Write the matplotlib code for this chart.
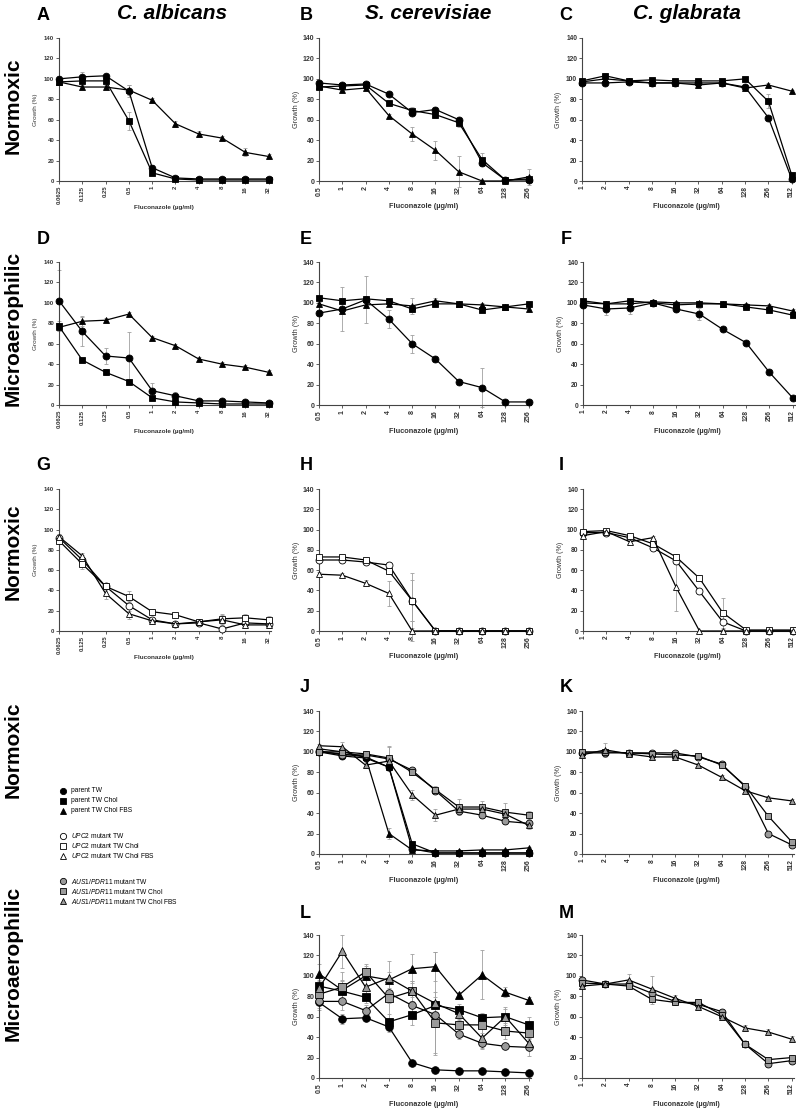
import matplotlib
matplotlib.use('Agg')
import matplotlib.pyplot as plt
from matplotlib.lines import Line2D
import numpy as np

plt.rcParams['font.family'] = ['Liberation Sans', 'DejaVu Sans']
plt.rcParams['mathtext.fontset'] = 'custom'
plt.rcParams['mathtext.it'] = 'Liberation Sans:italic'
plt.rcParams['mathtext.rm'] = 'Liberation Sans'

# ---------------- data ----------------
x_calb = ['0.0625', '0.125', '0.25', '0.5', '1', '2', '4', '8', '16', '32']
x_scer = ['0.5', '1', '2', '4', '8', '16', '32', '64', '128', '256']
x_cgla = ['1', '2', '4', '8', '16', '32', '64', '128', '256', '512']

yticks = [0, 20, 40, 60, 80, 100, 120, 140]

# Panel A  (C. albicans, normoxic, parent)
A_pTW = [100, 102, 103, 88, 13, 3, 2, 2, 2, 2]
A_pTW_err = [3, 5, 2, 6, 3, 1, 0, 0, 0, 0]
A_pTWC = [97, 98, 98, 59, 8, 2, 1, 1, 1, 1]
A_pTWC_err = [2, 2, 2, 9, 2, 1, 0, 0, 0, 0]
A_pTWCF = [97, 92, 92, 89, 79, 56, 46, 42, 28, 24]
A_pTWCF_err = [2, 2, 2, 5, 2, 3, 3, 2, 4, 2]

# Panel B  (S. cerevisiae, normoxic, parent)
B_pTW = [96, 94, 95, 85, 67, 70, 60, 18, 1, 1]
B_pTW_err = [2, 2, 1, 2, 2, 2, 2, 3, 1, 1]
B_pTWC = [92, 93, 94, 76, 69, 65, 57, 21, 1, 2]
B_pTWC_err = [2, 2, 1, 2, 3, 3, 4, 6, 1, 1]
B_pTWCF = [93, 89, 91, 64, 46, 30, 9, 0, 0, 4]
B_pTWCF_err = [2, 2, 1, 2, 7, 9, 15, 0, 0, 8]

# Panel C  (C. glabrata, normoxic, parent)
C_pTW = [96, 96, 97, 96, 96, 96, 96, 92, 62, 2]
C_pTW_err = [1, 1, 1, 1, 1, 1, 1, 1, 2, 1]
C_pTWC = [98, 103, 98, 99, 98, 98, 98, 100, 78, 6]
C_pTWC_err = [1, 3, 1, 1, 1, 1, 1, 1, 7, 2]
C_pTWCF = [97, 100, 98, 96, 96, 94, 96, 91, 94, 88]
C_pTWCF_err = [1, 2, 1, 1, 1, 3, 1, 2, 2, 1]

# Panel D  (C. albicans, microaerophilic, parent)
D_pTW = [102, 72, 48, 46, 14, 9, 4, 4, 3, 2]
D_pTW_err = [30, 14, 8, 25, 8, 4, 2, 1, 1, 1]
D_pTWC = [77, 44, 32, 23, 7, 3, 2, 1, 1, 1]
D_pTWC_err = [5, 2, 3, 2, 2, 1, 1, 0, 0, 0]
D_pTWCF = [76, 82, 83, 89, 66, 58, 45, 40, 37, 32]
D_pTWCF_err = [2, 5, 2, 2, 2, 2, 2, 2, 2, 2]

# Panel E  (S. cerevisiae, microaerophilic, parent)
E_pTW = [90, 94, 103, 84, 60, 45, 23, 17, 3, 3]
E_pTW_err = [3, 22, 23, 9, 9, 3, 2, 19, 1, 1]
E_pTWC = [105, 102, 104, 102, 94, 99, 99, 93, 96, 99]
E_pTWC_err = [2, 3, 3, 2, 3, 2, 2, 2, 2, 2]
E_pTWCF = [99, 92, 98, 99, 97, 102, 99, 98, 96, 94]
E_pTWCF_err = [2, 3, 3, 2, 8, 3, 2, 2, 2, 2]

# Panel F  (C. glabrata, microaerophilic, parent)
F_pTW = [98, 94, 95, 100, 94, 89, 74, 61, 32, 7]
F_pTW_err = [3, 6, 6, 2, 3, 6, 2, 2, 2, 2]
F_pTWC = [102, 99, 102, 100, 98, 99, 99, 96, 93, 88]
F_pTWC_err = [2, 3, 2, 2, 2, 2, 2, 2, 2, 2]
F_pTWCF = [100, 99, 99, 101, 100, 100, 99, 98, 97, 92]
F_pTWCF_err = [2, 2, 2, 2, 2, 2, 2, 2, 2, 2]

# Panel G  (C. albicans, normoxic, UPC2 mutant)
G_uTW = [92, 70, 44, 25, 11, 7, 8, 2, 8, 7]
G_uTW_err = [4, 5, 3, 5, 3, 2, 2, 2, 3, 4]
G_uTWC = [89, 66, 44, 34, 19, 16, 9, 12, 13, 11]
G_uTWC_err = [3, 5, 3, 5, 3, 2, 3, 5, 4, 4]
G_uTWCF = [93, 74, 37, 17, 10, 7, 9, 11, 6, 6]
G_uTWCF_err = [3, 3, 5, 5, 3, 2, 3, 5, 3, 3]

# Panel H  (S. cerevisiae, normoxic, UPC2 mutant)
H_uTW = [70, 70, 68, 65, 30, 0, 0, 0, 0, 0]
H_uTW_err = [2, 2, 2, 3, 20, 0, 0, 0, 0, 0]
H_uTWC = [73, 73, 70, 59, 30, 0, 0, 0, 0, 0]
H_uTWC_err = [2, 2, 2, 3, 27, 0, 0, 0, 0, 0]
H_uTWCF = [56, 55, 47, 37, 0, 0, 0, 0, 0, 0]
H_uTWCF_err = [2, 2, 3, 12, 10, 0, 0, 0, 0, 0]

# Panel I  (C. glabrata, normoxic, UPC2 mutant)
I_uTW = [97, 97, 92, 82, 69, 39, 9, 0, 0, 0]
I_uTW_err = [2, 2, 2, 2, 3, 2, 7, 0, 0, 0]
I_uTWC = [98, 99, 94, 86, 73, 52, 18, 1, 1, 1]
I_uTWC_err = [2, 2, 2, 2, 3, 3, 15, 1, 0, 0]
I_uTWCF = [94, 98, 88, 92, 43, 0, 0, 0, 0, 0]
I_uTWCF_err = [2, 2, 2, 2, 23, 0, 0, 0, 0, 0]

# Panel J  (S. cerevisiae, normoxic, parent + AUS1/PDR11 mutant)
J_pTW = [100, 96, 94, 85, 5, 1, 1, 1, 1, 1]
J_pTW_err = [2, 2, 2, 3, 1, 0, 0, 0, 0, 0]
J_pTWC = [100, 98, 95, 85, 10, 1, 1, 1, 1, 1]
J_pTWC_err = [2, 2, 2, 3, 2, 0, 0, 0, 0, 0]
J_pTWCF = [103, 100, 95, 20, 4, 3, 3, 4, 4, 6]
J_pTWCF_err = [2, 3, 2, 5, 2, 1, 1, 1, 1, 1]
J_aTW = [101, 97, 97, 93, 82, 62, 42, 38, 32, 30]
J_aTW_err = [2, 2, 2, 12, 2, 3, 3, 3, 3, 3]
J_aTWC = [100, 100, 98, 94, 80, 63, 46, 46, 41, 38]
J_aTWC_err = [2, 2, 2, 12, 3, 4, 8, 6, 9, 4]
J_aTWCF = [106, 105, 87, 91, 58, 38, 44, 44, 39, 28]
J_aTWCF_err = [2, 5, 3, 4, 5, 6, 4, 4, 4, 4]

# Panel K  (C. glabrata, normoxic, AUS1/PDR11 mutant)
K_aTW = [99, 99, 99, 99, 99, 95, 88, 66, 20, 9]
K_aTW_err = [2, 2, 2, 2, 2, 2, 2, 2, 2, 2]
K_aTWC = [100, 100, 99, 98, 97, 96, 87, 67, 37, 12]
K_aTWC_err = [2, 2, 2, 2, 2, 2, 2, 2, 2, 2]
K_aTWCF = [97, 102, 98, 95, 95, 87, 75, 62, 55, 52]
K_aTWCF_err = [2, 7, 2, 2, 2, 2, 2, 2, 2, 2]

# Panel L  (S. cerevisiae, microaerophilic, parent + AUS1/PDR11 mutant)
L_pTW = [74, 58, 59, 50, 15, 8, 7, 7, 6, 5]
L_pTW_err = [5, 5, 3, 5, 2, 1, 1, 1, 1, 1]
L_pTWC = [90, 85, 79, 55, 62, 71, 67, 59, 60, 52]
L_pTWC_err = [5, 10, 6, 8, 10, 8, 5, 5, 8, 8]
L_pTWCF = [102, 86, 100, 96, 107, 109, 81, 101, 84, 76]
L_pTWCF_err = [10, 10, 10, 8, 14, 14, 3, 24, 5, 3]
L_aTW = [75, 75, 66, 83, 71, 62, 43, 34, 31, 30]
L_aTW_err = [8, 8, 5, 10, 8, 12, 5, 6, 3, 8]
L_aTWC = [82, 89, 104, 78, 85, 54, 52, 52, 46, 44]
L_aTWC_err = [6, 15, 8, 20, 10, 30, 6, 8, 8, 8]
L_aTWCF = [88, 124, 89, 98, 85, 73, 63, 39, 60, 34]
L_aTWCF_err = [8, 16, 8, 17, 10, 50, 6, 10, 10, 5]

# Panel M  (C. glabrata, microaerophilic, AUS1/PDR11 mutant)
M_aTW = [96, 92, 92, 83, 75, 72, 65, 33, 14, 17]
M_aTW_err = [2, 2, 2, 5, 3, 3, 3, 3, 3, 3]
M_aTWC = [93, 92, 90, 77, 74, 74, 62, 33, 18, 20]
M_aTWC_err = [2, 2, 2, 5, 3, 3, 3, 3, 3, 3]
M_aTWCF = [90, 92, 96, 87, 78, 70, 60, 49, 45, 38]
M_aTWCF_err = [2, 2, 6, 13, 3, 3, 3, 3, 3, 3]

legend_labels = ['parent TW', 'parent TW Chol', 'parent TW Chol FBS',
                 r'$\it{UPC2}$ mutant TW', r'$\it{UPC2}$ mutant TW Chol',
                 r'$\it{UPC2}$ mutant TW Chol FBS',
                 r'$\it{AUS1/PDR11}$ mutant TW', r'$\it{AUS1/PDR11}$ mutant TW Chol',
                 r'$\it{AUS1/PDR11}$ mutant TW Chol FBS']

# ---------------- styling ----------------
GRAY = '#9a9a9a'
STY = {
    'pTW': dict(marker='o', mfc='black'),
    'pTWC': dict(marker='s', mfc='black'),
    'pTWCF': dict(marker='^', mfc='black'),
    'uTW': dict(marker='o', mfc='white'),
    'uTWC': dict(marker='s', mfc='white'),
    'uTWCF': dict(marker='^', mfc='white'),
    'aTW': dict(marker='o', mfc=GRAY),
    'aTWC': dict(marker='s', mfc=GRAY),
    'aTWCF': dict(marker='^', mfc=GRAY),
}
legend_keys = ['pTW', 'pTWC', 'pTWCF', 'uTW', 'uTWC', 'uTWCF', 'aTW', 'aTWC', 'aTWCF']

W, H = 796, 1109
fig = plt.figure(figsize=(W / 100, H / 100), dpi=100)


def fx(px):
    return px / W


def fy(py):
    return 1 - py / H


def panel(left, top, bottom, xlabels, series, fs=5.0, ms=5.0):
    width = 212
    ax = fig.add_axes([fx(left), fy(bottom), width / W, (bottom - top) / H])
    x = np.arange(len(xlabels))
    for key, vals, err in series:
        ax.errorbar(x, vals, yerr=err, fmt='none', ecolor='#a0a0a0',
                    elinewidth=0.6, capsize=1.3, capthick=0.6, zorder=2,
                    clip_on=False)
    for key, vals, err in series:
        st = STY[key]
        ax.plot(x, vals, color='black', lw=0.9, marker=st['marker'],
                mfc=st['mfc'], mec='black', mew=0.6, ms=ms, zorder=3,
                clip_on=False)
    ax.set_xlim(0, 9.1)
    ax.set_ylim(0, 140)
    ax.set_xticks(x)
    ax.set_xticklabels(xlabels, rotation=90, fontsize=fs, fontweight='bold',
                       color='#333333')
    ax.set_yticks(yticks)
    ax.set_yticklabels([str(v) for v in yticks], fontsize=fs,
                       fontweight='bold', color='#333333')
    for s in ['top', 'right']:
        ax.spines[s].set_visible(False)
    for s in ['left', 'bottom']:
        ax.spines[s].set_linewidth(0.8)
        ax.spines[s].set_color('#444444')
    ax.tick_params(axis='both', length=2, width=0.6, pad=1.5, color='#444444')
    ax.patch.set_alpha(0)
    # axis labels
    cx = left + 9 * width / 9.1 / 2
    fig.text(fx(cx), fy(bottom + 26), 'Fluconazole (\u00b5g/ml)', ha='center',
             va='center', fontsize=fs + 0.3, fontweight='bold', color='#333333')
    fig.text(fx(left - 23), fy((top + bottom) / 2), 'Growth (%)', ha='center',
             va='center', rotation=90, fontsize=fs + 0.3, color='#333333')
    return ax


panel(59, 38, 181, x_calb, [('pTW', A_pTW, A_pTW_err), ('pTWC', A_pTWC, A_pTWC_err),
                            ('pTWCF', A_pTWCF, A_pTWCF_err)], fs=4.3, ms=4.8)
panel(319, 38, 181, x_scer, [('pTW', B_pTW, B_pTW_err), ('pTWC', B_pTWC, B_pTWC_err),
                             ('pTWCF', B_pTWCF, B_pTWCF_err)], fs=5.0, ms=5.0)
panel(582, 38, 181, x_cgla, [('pTW', C_pTW, C_pTW_err), ('pTWC', C_pTWC, C_pTWC_err),
                             ('pTWCF', C_pTWCF, C_pTWCF_err)], fs=4.8, ms=5.0)
panel(59, 262, 405, x_calb, [('pTW', D_pTW, D_pTW_err), ('pTWC', D_pTWC, D_pTWC_err),
                             ('pTWCF', D_pTWCF, D_pTWCF_err)], fs=4.3, ms=5.0)
panel(319, 262, 405, x_scer, [('pTW', E_pTW, E_pTW_err), ('pTWC', E_pTWC, E_pTWC_err),
                              ('pTWCF', E_pTWCF, E_pTWCF_err)], fs=5.0, ms=5.0)
panel(583, 262, 405, x_cgla, [('pTW', F_pTW, F_pTW_err), ('pTWC', F_pTWC, F_pTWC_err),
                              ('pTWCF', F_pTWCF, F_pTWCF_err)], fs=4.8, ms=5.0)
panel(59, 489, 631, x_calb, [('uTW', G_uTW, G_uTW_err), ('uTWC', G_uTWC, G_uTWC_err),
                             ('uTWCF', G_uTWCF, G_uTWCF_err)], fs=4.3, ms=5.0)
panel(319, 489, 631, x_scer, [('uTW', H_uTW, H_uTW_err), ('uTWC', H_uTWC, H_uTWC_err),
                              ('uTWCF', H_uTWCF, H_uTWCF_err)], fs=5.0, ms=5.0)
panel(583, 489, 631, x_cgla, [('uTW', I_uTW, I_uTW_err), ('uTWC', I_uTWC, I_uTWC_err),
                              ('uTWCF', I_uTWCF, I_uTWCF_err)], fs=4.8, ms=5.0)
panel(319, 711, 854, x_scer, [('pTW', J_pTW, J_pTW_err), ('pTWC', J_pTWC, J_pTWC_err),
                              ('pTWCF', J_pTWCF, J_pTWCF_err), ('aTW', J_aTW, J_aTW_err),
                              ('aTWC', J_aTWC, J_aTWC_err), ('aTWCF', J_aTWCF, J_aTWCF_err)],
      fs=5.0, ms=5.0)
panel(582, 711, 854, x_cgla, [('aTW', K_aTW, K_aTW_err), ('aTWC', K_aTWC, K_aTWC_err),
                              ('aTWCF', K_aTWCF, K_aTWCF_err)], fs=4.8, ms=5.0)
panel(319, 935, 1078, x_scer, [('pTW', L_pTW, L_pTW_err), ('pTWC', L_pTWC, L_pTWC_err),
                               ('pTWCF', L_pTWCF, L_pTWCF_err), ('aTW', L_aTW, L_aTW_err),
                               ('aTWC', L_aTWC, L_aTWC_err), ('aTWCF', L_aTWCF, L_aTWCF_err)],
      fs=5.0, ms=5.5)
panel(582, 935, 1078, x_cgla, [('aTW', M_aTW, M_aTW_err), ('aTWC', M_aTWC, M_aTWC_err),
                               ('aTWCF', M_aTWCF, M_aTWCF_err)], fs=4.8, ms=5.0)

# ---------------- panel letters ----------------
letters = [('A', 43, 16), ('B', 306, 16), ('C', 566, 16),
           ('D', 43, 240), ('E', 306, 240), ('F', 566, 240),
           ('G', 43, 466), ('H', 306, 466), ('I', 561, 466),
           ('J', 305, 687), ('K', 566, 687), ('L', 305, 913), ('M', 566, 913)]
for t, px, py in letters:
    fig.text(fx(px), fy(py), t, ha='center', va='center', fontsize=13,
             fontweight='bold')

# column titles
for t, px in [('C. albicans', 172), ('S. cerevisiae', 428), ('C. glabrata', 687)]:
    fig.text(fx(px), fy(19), t, ha='center', va='baseline', fontsize=15,
             fontweight='bold', fontstyle='italic')

# row labels
for t, py in [('Normoxic', 106), ('Microaerophilic', 328), ('Normoxic', 552),
              ('Normoxic', 750), ('Microaerophilic', 963)]:
    fig.text(fx(13), fy(py), t, ha='center', va='center', rotation=90,
             fontsize=15, fontweight='bold')

# ---------------- legend ----------------
leg_y = [791, 801, 811, 836, 846, 856, 881, 891, 901]
for key, lab, py in zip(legend_keys, legend_labels, leg_y):
    st = STY[key]
    fig.add_artist(Line2D([fx(63)], [fy(py)], transform=fig.transFigure,
                          marker=st['marker'], mfc=st['mfc'], mec='black',
                          mew=0.6, ms=4.5, ls='none'))
    fig.text(fx(71), fy(py), lab, ha='left', va='center', fontsize=4.8)

fig.savefig('out.png', dpi=100)
